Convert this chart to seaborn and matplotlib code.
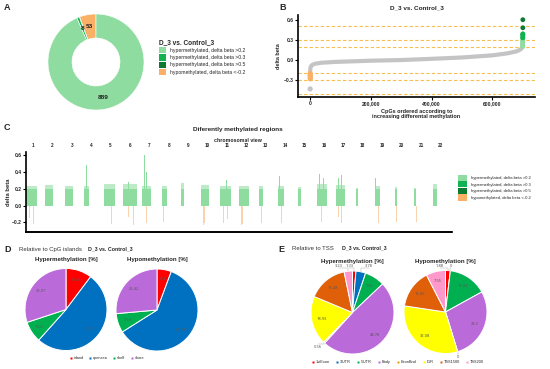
import numpy as np
import matplotlib
matplotlib.use("Agg")
import matplotlib.pyplot as plt
import matplotlib.transforms as mtrans
from matplotlib.patches import Patch
from matplotlib.lines import Line2D
from matplotlib.ticker import FuncFormatter
import seaborn as sns

# ---------------- data ----------------
# A: number of differentially methylated CpGs per class
dmp_labels = ["hypermethylated, delta beta >0.2", "hypermethylated, delta beta >0.3",
              "hypermethylated, delta beta >0.5", "hypomethylated, delta beta <-0.2"]
dmp_counts = [889, 8, 1, 53]

# B: CpGs ordered by delta beta
curve_rank = [0, 500, 2000, 6000, 16000, 38000, 82000, 200000, 300000, 400000,
              500000, 600000, 650000, 680000, 693000, 699000]
curve_delta = [-0.18, -0.13, -0.10, -0.075, -0.055, -0.04, -0.028, -0.01, 0.0, 0.018,
               0.038, 0.07, 0.10, 0.13, 0.16, 0.19]
hyper_rank = [699100, 699200, 699300, 699400, 699500, 699600, 699650, 699700, 699750,
              699800, 699850, 699900, 699950, 699980, 700000]
hyper_delta = [0.20, 0.22, 0.24, 0.26, 0.28, 0.30, 0.32, 0.34, 0.36, 0.38, 0.33, 0.37, 0.39, 0.48, 0.60]
hyper_class = [0, 0, 0, 0, 0, 0, 0, 1, 0, 1, 1, 1, 1, 2, 2]
hypo_rank = [0, 100, 200, 300, 400]
hypo_delta = [-0.20, -0.22, -0.24, -0.26, -0.28]
outlier_rank = [0]
outlier_delta = [-0.43]
thresholds = [-0.5, -0.3, -0.2, 0.2, 0.3, 0.5]

# C: chromosomal view
chroms = list(range(1, 23))
chrom_width = [0.57, 0.41, 0.40, 0.26, 0.57, 0.74, 0.43, 0.26, 0.17, 0.43, 0.55,
               0.52, 0.21, 0.31, 0.16, 0.52, 0.46, 0.10, 0.26, 0.14, 0.08, 0.20]
chrom_top = [0.24, 0.25, 0.23, 0.23, 0.26, 0.26, 0.24, 0.23, 0.27, 0.25, 0.24,
             0.23, 0.24, 0.23, 0.22, 0.26, 0.25, 0.21, 0.23, 0.22, 0.21, 0.26]
spike_pos = [3.13, 6.09, 6.2, 10.36, 13.09, 15.14, 15.32, 16.11, 16.24, 18.04, 5.3]
spike_height = [0.48, 0.61, 0.40, 0.31, 0.35, 0.38, 0.33, 0.33, 0.37, 0.33, 0.28]
hypo_pos = [0.38, 1.18, 2.27, 3.25, 4.42, 5.1, 5.53, 6.22, 7.08, 8.2, 9.14, 9.2,
            10.17, 11.12, 11.16, 12.15, 13.16, 14.12, 15.24, 16.27, 18.16, 19.1,
            20.14, 21.13, 0.2, 5.3, 10.4, 16.1]
hypo_depth = [-0.22, -0.21, -0.21, -0.20, -0.22, -0.20, -0.23, -0.21, -0.20, -0.22,
              -0.23, -0.21, -0.21, -0.23, -0.22, -0.21, -0.21, -0.20, -0.20, -0.21,
              -0.21, -0.20, -0.20, -0.21, -0.15, -0.14, -0.16, -0.13]

# D: relative to CpG islands [%]
cpg_labels = ["island", "opensea", "shelf", "shore"]
cpg_hyper = [10.26, 51.32, 8.35, 30.07]
cpg_hypo = [5.66, 60.38, 7.55, 26.42]

# E: relative to TSS [%]
tss_labels = ["1stExon", "3'UTR", "5'UTR", "Body", "ExonBnd", "IGR", "TSS1500", "TSS200"]
tss_hyper = [1.33, 3.78, 7.81, 48.78, 0.56, 18.93, 15.48, 3.23]
tss_hypo = [1.88, 0, 15.09, 28.3, 0, 32.08, 15.09, 7.55]

# ---------------- style ----------------
sns.set_theme(style="white")
plt.rcParams['font.family'] = ['Liberation Sans', 'DejaVu Sans']
plt.rcParams['axes.unicode_minus'] = True

W, H = 550, 369
fig = plt.figure(figsize=(W / 100, H / 100), dpi=100)
fig.patch.set_facecolor("white")


def fbox(x0, y0, x1, y1):
    return [x0 / W, 1 - y1 / H, (x1 - x0) / W, (y1 - y0) / H]


def fxy(x, y):
    return (x / W, 1 - y / H)


green_cols = ["#8FDCA0", "#10B252", "#0C7A31", "#FBB067"]
minus_fmt = FuncFormatter(lambda v, p: f"{v:.1f}".replace("-", "\u2212"))

# panel letters
for letter, (x, y) in zip("ABCDE", [(4, 7), (279, 7), (4, 127), (4, 249), (278, 249)]):
    fig.text(*fxy(x, y), letter, fontsize=6.5, fontweight="bold", va="center", ha="left")

# ---------------- A: donut ----------------
axA = fig.add_axes(fbox(48, 14, 144, 110))
pie_vals = [dmp_counts[3], dmp_counts[2], dmp_counts[1], dmp_counts[0]]
pie_cols = [green_cols[3], green_cols[2], green_cols[1], green_cols[0]]
wedges, _ = axA.pie(pie_vals, colors=pie_cols, startangle=90, counterclock=True,
                    wedgeprops=dict(width=0.5, edgecolor="white", linewidth=0.4))
for w, v in zip(wedges, pie_vals):
    if v < 5:
        continue
    ang = np.deg2rad((w.theta1 + w.theta2) / 2)
    axA.text(0.76 * np.cos(ang), 0.76 * np.sin(ang), str(v), ha="center", va="center",
             fontsize=4.6, fontweight="bold", color="#222222")
axA.set_xlim(-1, 1)
axA.set_ylim(-1, 1)
axA.set_aspect("equal")
axA.axis("off")
hA = [Patch(facecolor=c, edgecolor="none") for c in green_cols]
legA = fig.legend(hA, dmp_labels, title="D_3 vs. Control_3", loc="upper left",
                  bbox_to_anchor=fxy(159, 39), frameon=False, fontsize=3.7,
                  title_fontproperties={"weight": "bold", "size": 4.7},
                  handlelength=1.35, handleheight=1.5, labelspacing=0.2,
                  handletextpad=0.7, borderpad=0, borderaxespad=0, alignment="left")

# ---------------- B: ordered delta beta ----------------
axB = fig.add_axes(fbox(298, 15, 535, 97))
for t in thresholds:
    axB.axhline(t, color="#F6BE4F", ls=(0, (3, 2)), lw=0.8, zorder=1)
sns.lineplot(x=curve_rank, y=curve_delta, ax=axB, color="#C4C4C4", lw=3,
             solid_capstyle="round", zorder=2)
sns.scatterplot(x=outlier_rank, y=outlier_delta, ax=axB, color="#C4C4C4", s=14,
                edgecolor="none", zorder=3)
sns.scatterplot(x=hypo_rank, y=hypo_delta, ax=axB, color="#FBB067", s=14,
                edgecolor="none", zorder=3)
hyper_colors = [green_cols[c] for c in hyper_class]
axB.scatter(hyper_rank, hyper_delta, c=hyper_colors, s=12, edgecolors="none", zorder=3)
axB.set_xlim(-40000, 740000)
axB.set_ylim(-0.55, 0.67)
axB.set_xticks([0, 200000, 400000, 600000])
axB.xaxis.set_major_formatter(FuncFormatter(lambda v, p: f"{int(v):,}"))
axB.set_yticks([-0.3, 0.0, 0.3, 0.6])
axB.yaxis.set_major_formatter(minus_fmt)
axB.set_title("D_3 vs. Control_3", fontsize=4.6, fontweight="bold", pad=4)
axB.set_ylabel("delta beta", fontsize=4, fontweight="bold", labelpad=2)
axB.set_xlabel("CpGs ordered according to\nincreasing differental methylation",
               fontsize=4, fontweight="bold", labelpad=2, linespacing=1.1)

# ---------------- C: chromosomal view ----------------
axC = fig.add_axes(fbox(26, 152, 452, 231.7))
slot = np.array(chroms) - 1
axC.bar(slot, chrom_top, width=chrom_width, align="edge", color="#BDEBC8", lw=0, zorder=2)
axC.bar(slot, 0.2, width=chrom_width, align="edge", color="#8FDCA0", lw=0, zorder=2)
axC.bar(spike_pos, spike_height, width=0.05, color="#8FDCA0", lw=0, zorder=2)
axC.bar(hypo_pos, hypo_depth, width=0.04, color="#F9D3AE", lw=0, zorder=2)
axC.set_xlim(0, 21.96)
axC.set_ylim(-0.31, 0.64)
axC.set_yticks([-0.2, 0.0, 0.2, 0.4, 0.6])
axC.yaxis.set_major_formatter(minus_fmt)
axC.set_xticks([])
axC.set_ylabel("delta beta", fontsize=4.2, fontweight="bold", labelpad=1)
trC = mtrans.blended_transform_factory(axC.transData, axC.transAxes)
for c, s in zip(chroms, slot):
    axC.text(s + 0.36, 1.045, str(c), transform=trC, ha="center", va="bottom",
             fontsize=3.3, fontweight="bold")
fig.text(*fxy(238, 140), "chromosomal view", fontsize=3.8, fontweight="bold",
         ha="center", va="center")
fig.text(*fxy(238, 129), "Diferently methylated regions", fontsize=4.6,
         fontweight="bold", ha="center", va="center")
axC.spines["bottom"].set_linestyle((0, (9.0, 1.0)))
axC.spines["bottom"].set_linewidth(1.4)
hC = [Patch(facecolor=c, edgecolor="none") for c in green_cols]
fig.legend(hC, dmp_labels, loc="upper left", bbox_to_anchor=fxy(458, 174.5),
           frameon=False, fontsize=3.0, handlelength=2.1, handleheight=1.95,
           labelspacing=0.08, handletextpad=1.0, borderpad=0, borderaxespad=0)

for ax in (axB, axC):
    for side in ("top", "right"):
        ax.spines[side].set_visible(False)
    ax.spines["left"].set_linewidth(1.2)
    ax.spines["left"].set_color("black")
    ax.spines["bottom"].set_color("black")
    ax.tick_params(axis="both", labelsize=3.6, length=2, width=0.8, pad=1,
                   direction="out", left=True, bottom=(ax is axB), color="black")
    for lab in ax.get_xticklabels() + ax.get_yticklabels():
        lab.set_fontweight("bold")
axB.spines["bottom"].set_linewidth(1.2)

# ---------------- D / E: pies ----------------
cpg_cols = ["#FF0000", "#0070C0", "#00B050", "#BB6BD9"]
tss_cols = ["#FF0000", "#0070C0", "#00B050", "#BB6BD9", "#E0A000", "#FFFF00", "#E0600A", "#FF99CC"]
lab_kw = dict(fontsize=2.9, color="#595959", ha="center", va="center",
              family=["Noto Sans", "DejaVu Sans"])

# outside label positions for small slices (pie units)
outside_pos = {
    ("E_hyper", "TSS200"): (-0.33, 1.13), ("E_hyper", "1stExon"): (-0.08, 1.13),
    ("E_hyper", "3'UTR"): (0.40, 1.13), ("E_hyper", "ExonBnd"): (-0.84, -0.82),
    ("E_hypo", "1stExon"): (-0.13, 1.11), ("E_hypo", "3'UTR"): (0.14, 1.11),
    ("E_hypo", "ExonBnd"): (0.30, -1.09),
}


def draw_pie(box, values, labels, colors, title, key):
    ax = fig.add_axes(fbox(*box))
    wedges, _ = ax.pie(values, colors=colors, startangle=90, counterclock=False,
                       wedgeprops=dict(edgecolor="white", linewidth=0.7))
    for w, v, lab in zip(wedges, values, labels):
        ang = np.deg2rad((w.theta1 + w.theta2) / 2)
        txt = f"{v:g}"
        if (key, lab) in outside_pos:
            px, py = outside_pos[(key, lab)]
            ex, ey = 1.0 * np.cos(ang), 1.0 * np.sin(ang)
            ax.plot([ex, ex, px], [ey, py - 0.06 * np.sign(py), py - 0.06 * np.sign(py)],
                    color="#A6A6A6", lw=0.3, clip_on=False)
            ax.text(px, py, txt, **lab_kw)
        else:
            ax.text(0.76 * np.cos(ang), 0.76 * np.sin(ang), txt, **lab_kw)
    ax.set_xlim(-1, 1)
    ax.set_ylim(-1, 1)
    ax.set_aspect("equal")
    ax.axis("off")
    cx = (box[0] + box[2]) / 2
    fig.text(*fxy(cx, box[1] - 9), title, fontsize=4.4, fontweight="bold",
             ha="center", va="center", color="#262626")
    return ax


draw_pie((25, 268.5, 107, 350.5), cpg_hyper, cpg_labels, cpg_cols, "Hypermethylation [%]", "D_hyper")
draw_pie((115.5, 269, 198.5, 351), cpg_hypo, cpg_labels, cpg_cols, "Hypomethylation [%]", "D_hypo")
draw_pie((311, 271, 394, 354), tss_hyper, tss_labels, tss_cols, "Hypermethylation [%]", "E_hyper")
draw_pie((404, 270.3, 487, 353.7), tss_hypo, tss_labels, tss_cols, "Hypomethylation [%]", "E_hypo")

fig.text(*fxy(19, 249), "Relative to CpG islands", fontsize=4.3, ha="left", va="center", color="#333333")
fig.text(*fxy(88, 249), "D_3 vs. Control_3", fontsize=3.8, fontweight="bold", ha="left", va="center")
fig.text(*fxy(292, 249), "Relative to TSS", fontsize=4.3, ha="left", va="center", color="#333333")
fig.text(*fxy(342, 248), "D_3 vs. Control_3", fontsize=3.8, fontweight="bold", ha="left", va="center")


def pie_legend(labels, colors, center, spacing):
    hs = [Line2D([], [], ls="none", marker="s", markersize=1.6, markerfacecolor=c,
                 markeredgecolor="none") for c in colors]
    fig.legend(hs, labels, loc="center", bbox_to_anchor=fxy(*center), ncol=len(labels),
               frameon=False, fontsize=2.8, handlelength=0.6, handletextpad=0.4,
               columnspacing=spacing, borderpad=0, borderaxespad=0)


pie_legend(cpg_labels, cpg_cols, (107, 358), 1.4)
pie_legend(tss_labels, tss_cols, (398, 362), 1.6)

fig.savefig("out.png", dpi=100)
